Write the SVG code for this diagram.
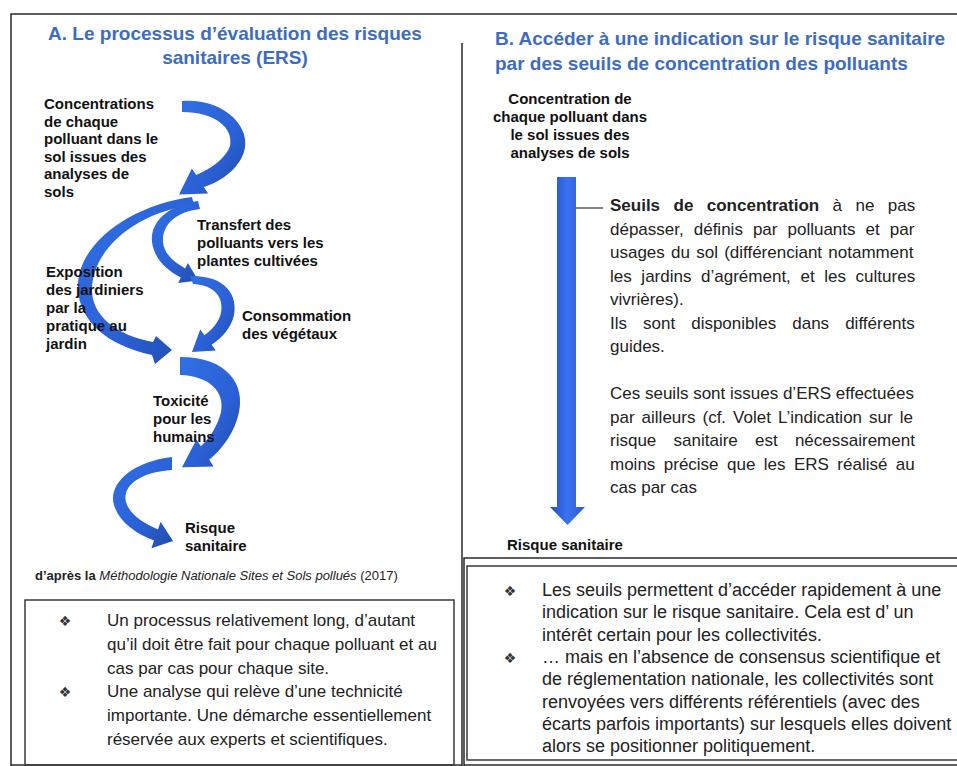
<svg xmlns="http://www.w3.org/2000/svg" width="957" height="766" viewBox="0 0 957 766">
<style>
.frame{fill:none;stroke:#2a2a2a;stroke-width:1.5}
.box{fill:none;stroke:#3a3a3a;stroke-width:1.5}
.title{font-family:"Liberation Sans",Arial,sans-serif;font-size:19px;font-weight:bold;fill:#3d6cc0}
.lbl{font-family:"Liberation Sans",Arial,sans-serif;font-size:15px;font-weight:bold;fill:#111}
.par{font-family:"Liberation Sans",Arial,sans-serif;font-size:17px;fill:#222}
.lb{font-family:"Liberation Sans",Arial,sans-serif;font-size:17px;fill:#222}
.rb{font-family:"Liberation Sans",Arial,sans-serif;font-size:18px;fill:#222}
.cap{font-family:"Liberation Sans",Arial,sans-serif;font-size:13px;fill:#222}
.bul{font-family:"DejaVu Sans","DejaVu Sans Mono","Noto Sans Symbols2",sans-serif;font-size:14px;fill:#333}
.arr{fill:url(#ag)}
</style>
<defs>
<linearGradient id="ag" x1="0" y1="0" x2="1" y2="1">
<stop offset="0" stop-color="#3070e4"/>
<stop offset="0.6" stop-color="#2b60d6"/>
<stop offset="1" stop-color="#1f4cab"/>
</linearGradient>
<linearGradient id="sg" x1="0" y1="0" x2="1" y2="0">
<stop offset="0" stop-color="#2450c0"/>
<stop offset="0.5" stop-color="#3a72f0"/>
<stop offset="1" stop-color="#2a5ad0"/>
</linearGradient>
</defs>
<rect width="957" height="766" fill="#fff"/>

<g id="frames">
<path class="frame" d="M11,766 V14 H957"/>
<path class="frame" d="M462,43 V766"/>
<path class="frame" d="M464,766 V558 H957"/>
<path class="frame" d="M11,765 H462"/>
<path class="frame" d="M464,765 H957"/>
</g>

<g id="connectors">
<path class="arr" d="M182,101 C225,98 252,128 244,152 C238,170 220,182 203.8,186.9 L208.1,193.6 L179,194.5 L191.9,168.4 L196.2,175.1 C212,168 226,158 230,146 C234,128 215,112 182,112 Z"/>
<path class="arr" d="M192,197 C130,205 75,245 78,290 C80,320 105,345 152,355 L155,364 L172,350 L156,336 L153,342 C115,335 92,315 92,290 C92,250 135,212 194,205 Z"/>
<path class="arr" d="M198,201 C168,205 150,222 152,242 C154,258 166,270 180.8,277.5 L178.2,282.9 L198.3,280.5 L187.8,263.1 L185.2,268.5 C174,262 164,254 163,242 C162,225 175,212 200,209 Z"/>
<path class="arr" d="M190,276 C225,275 238,295 234,315 C231,328 222,338 211.6,344.8 L215.8,350.4 L192,352 L200.2,329.6 L204.4,335.2 C212,330 219,322 221,313 C224,298 215,285 193,284 Z"/>
<path class="arr" d="M180,357 C228,357 245,385 239,412 C235,432 223,448 209.2,459.8 L213.5,466.6 L182,467.3 L196.5,439.4 L200.8,446.2 C210,438 218,425 221,412 C225,392 210,376 180,375 Z"/>
<path class="arr" d="M172,457 C130,462 108,485 114,505 C119,522 135,533 154,540.6 L151.4,548.2 L173,541 L160.6,521.8 L158,529.4 C142,523 129,513 126,502 C122,486 140,472 172,470 Z"/>
<path fill="url(#sg)" d="M557,177 H576 V507 H585 L567.5,525 L550,507 H557 Z"/>
<path d="M576,208 H603" stroke="#333" stroke-width="1.2" fill="none"/>
</g>

<g id="title-a">
<text class="title" x="235" y="40" text-anchor="middle">A. Le processus d’évaluation des risques</text>
<text class="title" x="235" y="64" text-anchor="middle">sanitaires (ERS)</text>
</g>
<g id="title-b">
<text class="title" x="495" y="45">B. Accéder à une indication sur le risque sanitaire</text>
<text class="title" x="495" y="70">par des seuils de concentration des polluants</text>
</g>

<g id="node-concentrations">
<text class="lbl"><tspan x="44" y="109">Concentrations</tspan><tspan x="44" y="126.5">de chaque</tspan><tspan x="44" y="144">polluant dans le</tspan><tspan x="44" y="161.5">sol issues des</tspan><tspan x="44" y="179">analyses de</tspan><tspan x="44" y="196.5">sols</tspan></text>
</g>
<g id="node-transfert">
<text class="lbl"><tspan x="197" y="230">Transfert des</tspan><tspan x="197" y="248">polluants vers les</tspan><tspan x="197" y="266">plantes cultivées</tspan></text>
</g>
<g id="node-exposition">
<text class="lbl"><tspan x="46" y="277">Exposition</tspan><tspan x="46" y="295">des jardiniers</tspan><tspan x="46" y="313">par la</tspan><tspan x="46" y="331">pratique au</tspan><tspan x="46" y="349">jardin</tspan></text>
</g>
<g id="node-consommation">
<text class="lbl"><tspan x="242" y="321">Consommation</tspan><tspan x="242" y="339">des végétaux</tspan></text>
</g>
<g id="node-toxicite">
<text class="lbl"><tspan x="153" y="406">Toxicité</tspan><tspan x="153" y="424">pour les</tspan><tspan x="153" y="442">humains</tspan></text>
</g>
<g id="node-risque-a">
<text class="lbl"><tspan x="185" y="533">Risque</tspan><tspan x="185" y="551">sanitaire</tspan></text>
</g>
<g id="caption">
<text class="cap" x="35" y="580"><tspan font-weight="bold">d’après la</tspan> <tspan font-style="italic">Méthodologie Nationale Sites et Sols pollués</tspan> (2017)</text>
</g>

<g id="box-a">
<rect class="box" x="25" y="600" width="429" height="165"/>
<text class="bul" x="65" y="626" text-anchor="middle">&#x2756;&#xFE0E;</text>
<text class="bul" x="65" y="697" text-anchor="middle">&#x2756;&#xFE0E;</text>
<text class="lb"><tspan x="107" y="626">Un processus relativement long, d’autant</tspan><tspan x="107" y="649.8">qu’il doit être fait pour chaque polluant et au</tspan><tspan x="107" y="673.6">cas par cas pour chaque site.</tspan><tspan x="107" y="697.4">Une analyse qui relève d’une technicité</tspan><tspan x="107" y="721.2">importante. Une démarche essentiellement</tspan><tspan x="107" y="745">réservée aux experts et scientifiques.</tspan></text>
</g>

<g id="node-concentration-b">
<text class="lbl" text-anchor="middle"><tspan x="570" y="104">Concentration de</tspan><tspan x="570" y="122">chaque polluant dans</tspan><tspan x="570" y="140">le sol issues des</tspan><tspan x="570" y="158">analyses de sols</tspan></text>
</g>
<g id="node-seuils">
<text class="par" x="610" y="211" word-spacing="8.7"><tspan font-weight="bold">Seuils de concentration</tspan> à ne pas</text>
<text class="par" x="610" y="234.5" word-spacing="5.3">dépasser, définis par polluants et par</text>
<text class="par" x="610" y="258" word-spacing="1.5">usages du sol (différenciant notamment</text>
<text class="par" x="610" y="281.5" word-spacing="4.9">les jardins d’agrément, et les cultures</text>
<text class="par" x="610" y="305">vivrières).</text>
<text class="par" x="610" y="328.5" word-spacing="11.3">Ils sont disponibles dans différents</text>
<text class="par" x="610" y="352">guides.</text>
<text class="par" x="610" y="399">Ces seuils sont issues d’ERS effectuées</text>
<text class="par" x="610" y="422.5" word-spacing="2.3">par ailleurs (cf. Volet L’indication sur le</text>
<text class="par" x="610" y="446" word-spacing="12.5">risque sanitaire est nécessairement</text>
<text class="par" x="610" y="469.5" word-spacing="3.7">moins précise que les ERS réalisé au</text>
<text class="par" x="610" y="493">cas par cas</text>
</g>
<g id="node-risque-b">
<text class="lbl" x="507" y="550">Risque sanitaire</text>
</g>

<g id="box-b">
<path class="box" d="M957,566 H467 V760 H957"/>
<text class="bul" x="510" y="596" text-anchor="middle">&#x2756;&#xFE0E;</text>
<text class="bul" x="510" y="663" text-anchor="middle">&#x2756;&#xFE0E;</text>
<text class="rb"><tspan x="542" y="596">Les seuils permettent d’accéder rapidement à une</tspan><tspan x="542" y="618.3">indication sur le risque sanitaire. Cela est d’ un</tspan><tspan x="542" y="640.6">intérêt certain pour les collectivités.</tspan><tspan x="542" y="662.9">… mais en l’absence de consensus scientifique et</tspan><tspan x="542" y="685.2">de réglementation nationale, les collectivités sont</tspan><tspan x="542" y="707.5">renvoyées vers différents référentiels (avec des</tspan><tspan x="542" y="729.8">écarts parfois importants) sur lesquels elles doivent</tspan><tspan x="542" y="752.1">alors se positionner politiquement.</tspan></text>
</g>
</svg>
